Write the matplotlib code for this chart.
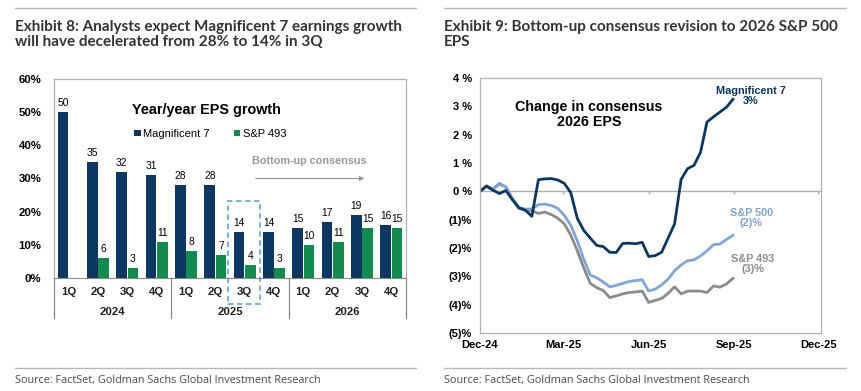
import numpy as np
import pandas as pd
import matplotlib.pyplot as plt
import matplotlib.dates as mdates
from matplotlib.patches import Rectangle

# ---- data: exhibit 8 (yoy EPS growth, %)
quarters = ['1Q', '2Q', '3Q', '4Q'] * 3
years = ['2024', '2025', '2026']
mag7 = [50, 35, 32, 31, 28, 28, 14, 14, 15, 17, 19, 16]
sp493 = [0, 6, 3, 11, 8, 7, 4, 3, 10, 11, 15, 15]

# ---- data: exhibit 9 (change in consensus 2026 EPS, %), weekly
dates = pd.date_range('2024-12-01', periods=40, freq='7D')
rev_mag7 = [0.0, 0.18, 0.04, -0.08, 0.03, -0.3, -0.58, -0.67, -0.88, 0.41,
            0.44, 0.45, 0.40, 0.28, -0.05, -0.95, -1.38, -1.65, -1.91, -1.95,
            -2.15, -2.16, -1.84, -1.83, -1.85, -1.8, -2.30, -2.27, -2.15, -1.65,
            -1.15, 0.42, 0.80, 0.92, 1.38, 2.45, 2.63, 2.80, 2.97, 3.25]
rev_sp500 = [0.0, 0.18, 0.08, 0.25, 0.15, -0.25, -0.58, -0.63, -0.62, -0.47,
             -0.45, -0.5, -0.6, -0.85, -1.2, -1.75, -2.4, -2.95, -3.05, -3.2,
             -3.37, -3.32, -3.25, -3.18, -3.15, -3.12, -3.52, -3.45, -3.3, -3.1,
             -2.8, -2.6, -2.45, -2.42, -2.28, -2.1, -1.88, -1.86, -1.7, -1.55]
rev_sp493 = [0.0, 0.2, 0.08, 0.28, 0.15, -0.27, -0.6, -0.66, -0.68, -0.78,
             -0.73, -0.82, -0.95, -1.15, -1.55, -2.1, -2.7, -3.25, -3.4, -3.5,
             -3.75, -3.69, -3.62, -3.57, -3.55, -3.52, -3.92, -3.85, -3.78, -3.6,
             -3.37, -3.62, -3.52, -3.52, -3.52, -3.57, -3.34, -3.38, -3.27, -3.07]

NAVY = '#0c3760'
GREEN = '#138a4e'
LBLUE = '#7fa6d6'
GREY = '#8c8c8c'
BORDER = '#b0b0b0'

plt.rcParams['font.family'] = ['Liberation Sans', 'DejaVu Sans']

fig = plt.figure(figsize=(8.62, 3.91), dpi=100)

# header / footer lines and titles
for x0, x1 in [(15, 416), (444, 846)]:
    fig.add_artist(plt.Line2D([x0 / 862, x1 / 862], [1 - 8 / 391] * 2, color='#b8b8b8', lw=1))
    fig.add_artist(plt.Line2D([x0 / 862, x1 / 862], [1 - 368 / 391] * 2, color='#b8b8b8', lw=1))
tkw = dict(fontfamily=['Lato', 'DejaVu Sans'], fontweight='bold', fontsize=11,
           color='#333333', va='top', linespacing=1.12)
fig.text(15 / 862, 1 - 19.5 / 391,
         'Exhibit 8: Analysts expect Magnificent 7 earnings growth\n'
         'will have decelerated from 28% to 14% in 3Q', **tkw)
fig.text(444 / 862, 1 - 19.5 / 391,
         'Exhibit 9: Bottom-up consensus revision to 2026 S&P 500\nEPS', **tkw)
skw = dict(fontfamily=['Open Sans', 'DejaVu Sans'], fontsize=7.8, color='#4a4a4a', va='center')
fig.text(15 / 862, 1 - 380 / 391, 'Source: FactSet, Goldman Sachs Global Investment Research', **skw)
fig.text(444 / 862, 1 - 380 / 391, 'Source: FactSet, Goldman Sachs Global Investment Research', **skw)

# ---------------- left: bars
ax = fig.add_axes([54 / 862, 1 - 278 / 391, 352 / 862, 199 / 391])
x = np.arange(len(mag7))
w = 0.36
ax.bar(x - 0.19, mag7, w, color=NAVY, label='Magnificent 7')
ax.bar(x + 0.19, sp493, w, color=GREEN, label='S&P 493')
for i in range(len(x)):
    ax.text(x[i] - 0.19, mag7[i] + 1.2, str(mag7[i]), ha='center', va='bottom', fontsize=7.4)
    if sp493[i] != 0:
        ax.text(x[i] + 0.19, sp493[i] + 1.2, str(sp493[i]), ha='center', va='bottom', fontsize=7.4)
ax.set_xlim(-0.5, len(x) - 0.5)
ax.set_ylim(0, 60)
ax.set_yticks(range(0, 61, 10))
ax.set_yticklabels([f'{v}%' for v in range(0, 61, 10)], fontweight='bold', fontsize=8.2)
ax.tick_params(axis='y', length=0, pad=9)
ax.set_xticks([])
for s in ['top', 'left', 'right']:
    ax.spines[s].set_color(BORDER)
    ax.spines[s].set_linewidth(0.9)
ax.spines['bottom'].set_color('#888888')

trans = ax.get_xaxis_transform()
for i, q in enumerate(quarters):
    ax.text(x[i], -0.07, q, transform=trans, ha='center', va='center', fontsize=8.2, fontweight='bold', color='#222222')
for j, yr in enumerate(years):
    ax.text(4 * j + 1.5, -0.17, yr, transform=trans, ha='center', va='center', fontsize=8.2, fontweight='bold', color='#222222')
for b in [-0.5, 3.5, 7.5, 11.5]:
    ax.plot([b, b], [0, -0.2], transform=trans, color='#888888', lw=0.9, clip_on=False)
ax.add_patch(Rectangle((5.43, -0.13), 1.09, 0.517, transform=trans, fill=False,
                       ls=(0, (3, 2)), lw=1.3, ec='#6fa8dc', clip_on=False))

ax.text(0.432, 0.825, 'Year/year EPS growth', transform=ax.transAxes, ha='center',
        fontsize=10.4, fontweight='bold')
ax.legend(loc='upper left', bbox_to_anchor=(0.2, 0.8), ncol=2, frameon=False,
          fontsize=8, handlelength=0.55, handleheight=0.55, handletextpad=0.25, columnspacing=2.2)
ax.text(0.725, 0.575, 'Bottom-up consensus', transform=ax.transAxes, ha='center',
        fontsize=7.8, fontweight='bold', color='#999999')
ax.annotate('', xy=(0.89, 0.5), xytext=(0.565, 0.5), xycoords='axes fraction',
            arrowprops=dict(arrowstyle='-|>', color='#999999', lw=0.8, mutation_scale=7))

# ---------------- right: lines
ax2 = fig.add_axes([480 / 862, 1 - 333 / 391, 341 / 862, 255 / 391])
ax2.plot(dates, rev_sp493, color=GREY, lw=2)
ax2.plot(dates, rev_sp500, color=LBLUE, lw=2)
ax2.plot(dates, rev_mag7, color=NAVY, lw=2)
ax2.axhline(0, color='#b0b0b0', lw=1, zorder=0)
xt = pd.to_datetime(['2024-12-01', '2025-03-01', '2025-06-01', '2025-09-01', '2025-12-01'])
ax2.vlines(xt[1:], -0.1, 0, color='#b0b0b0', lw=1, zorder=0)
ax2.set_xlim(pd.Timestamp('2024-12-01'), pd.Timestamp('2025-12-04'))
ax2.set_ylim(-5, 4)
ax2.set_xticks(xt)
ax2.xaxis.set_major_formatter(mdates.DateFormatter('%b-%y'))
ax2.set_yticks(range(-5, 5))
ax2.set_yticklabels([f'({-v})%' if v < 0 else f'{v} %' for v in range(-5, 5)])
for lab in ax2.get_xticklabels() + ax2.get_yticklabels():
    lab.set_fontweight('bold')
    lab.set_fontsize(8)
ax2.tick_params(length=0)
ax2.tick_params(axis='y', pad=6)
ax2.tick_params(axis='x', pad=5)
for s in ax2.spines.values():
    s.set_color(BORDER)
    s.set_linewidth(0.9)

ax2.text(0.32, 0.857, 'Change in consensus\n2026 EPS', transform=ax2.transAxes, ha='center',
         va='center', fontsize=10.3, fontweight='bold', linespacing=1.1)
ax2.text(0.795, 0.93, 'Magnificent 7\n3%', transform=ax2.transAxes, ha='center', va='center',
         fontsize=7.8, fontweight='bold', color=NAVY, linespacing=1.05)
ax2.text(0.795, 0.45, 'S&P 500\n(2)%', transform=ax2.transAxes, ha='center', va='center',
         fontsize=7.8, fontweight='bold', color=LBLUE, linespacing=1.05)
ax2.text(0.8, 0.27, 'S&P 493\n(3)%', transform=ax2.transAxes, ha='center', va='center',
         fontsize=7.8, fontweight='bold', color=GREY, linespacing=1.05)

fig.savefig('out.png', dpi=100)
